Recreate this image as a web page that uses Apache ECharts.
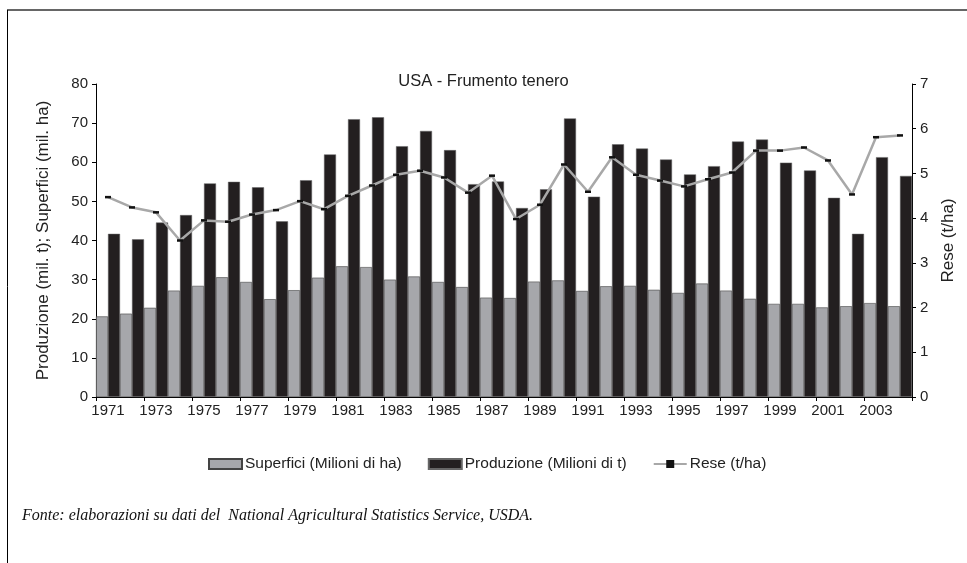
<!DOCTYPE html>
<html>
<head>
<meta charset="utf-8">
<script src="https://cdn.jsdelivr.net/npm/echarts@6/dist/echarts.min.js"></script>
<style>html,body{margin:0;padding:0;background:#fff}#c{width:967px;height:563px}</style>
</head>
<body>
<div id="c"></div>
<script>
var years = ['1971','1972','1973','1974','1975','1976','1977','1978','1979','1980','1981','1982','1983','1984','1985','1986','1987','1988','1989','1990','1991','1992','1993','1994','1995','1996','1997','1998','1999','2000','2001','2002','2003','2004'];
var superfici = [20.6,21.3,22.8,27.2,28.4,30.6,29.4,25.0,27.3,30.5,33.4,33.2,30.0,30.8,29.4,28.1,25.4,25.3,29.5,29.8,27.1,28.3,28.4,27.4,26.6,29.0,27.2,25.1,23.8,23.8,22.9,23.2,24.0,23.2];
var produzione = [41.7,40.3,44.6,46.5,54.6,55.0,53.6,44.9,55.4,62.0,71.0,71.5,64.1,68.0,63.1,54.4,55.1,48.3,53.1,71.2,51.2,64.6,63.5,60.7,56.9,59.0,65.3,65.8,59.9,57.9,50.9,41.7,61.3,56.5];
var rese = [4.47,4.24,4.13,3.50,3.95,3.92,4.08,4.18,4.38,4.20,4.50,4.73,4.97,5.06,4.91,4.57,4.95,3.98,4.30,5.20,4.59,5.36,4.97,4.84,4.71,4.87,5.02,5.51,5.51,5.58,5.29,4.53,5.81,5.85];
var leftTicks = {min:0, max:80, interval:10};
var rightTicks = {min:0, max:7, interval:1};

var font = 'Liberation Sans, Arial, sans-serif';
var chart = echarts.init(document.getElementById('c'));
chart.setOption({
  animation:false,
  backgroundColor:'#fff',
  textStyle:{fontFamily:font},
  title:{text:'USA - Frumento tenero', left:'center', top:68, textStyle:{fontFamily:font, fontSize:16.5, fontWeight:'normal', color:'#222'}},
  grid:{left:96, right:55, top:84, bottom:166},
  legend:{
    top:451, left:203, itemGap:26, itemWidth:33, itemHeight:10,
    textStyle:{fontFamily:font, fontSize:15.5, color:'#222', padding:[0,0,0,-2]},
    data:[
      {name:'Superfici (Milioni di ha)', icon:'rect'},
      {name:'Produzione (Milioni di t)', icon:'rect'},
      {name:'Rese (t/ha)'}
    ]
  },
  xAxis:{
    type:'category', data:years, boundaryGap:true,
    axisLine:{lineStyle:{color:'#000', width:1}},
    axisTick:{show:true, length:4, lineStyle:{color:'#000'}},
    axisLabel:{interval:1, fontFamily:font, fontSize:15, color:'#222', margin:6}
  },
  yAxis:[
    {type:'value', min:leftTicks.min, max:leftTicks.max, interval:leftTicks.interval,
     name:'Produzione (mil. t); Superfici (mil. ha)', nameLocation:'middle', nameGap:44,
     nameTextStyle:{fontFamily:font, fontSize:17, color:'#222'},
     axisLine:{show:true, lineStyle:{color:'#000'}},
     axisTick:{show:true, length:4, lineStyle:{color:'#000'}},
     axisLabel:{fontFamily:font, fontSize:15, color:'#222', margin:8},
     splitLine:{show:false}},
    {type:'value', min:rightTicks.min, max:rightTicks.max, interval:rightTicks.interval,
     name:'Rese (t/ha)', nameLocation:'middle', nameGap:28, nameRotate:90,
     nameTextStyle:{fontFamily:font, fontSize:17, color:'#222'},
     axisLine:{show:true, lineStyle:{color:'#000'}},
     axisTick:{show:true, length:4, lineStyle:{color:'#000'}},
     axisLabel:{fontFamily:font, fontSize:15, color:'#222', margin:8},
     splitLine:{show:false}}
  ],
  series:[
    {name:'Superfici (Milioni di ha)', type:'bar', data:superfici, barWidth:'50%', barGap:'0%', barCategoryGap:'0%',
     itemStyle:{color:'#a6a7ab', borderColor:'#444', borderWidth:0.6}},
    {name:'Produzione (Milioni di t)', type:'bar', data:produzione, barWidth:'50%', barGap:'0%', barCategoryGap:'0%',
     itemStyle:{color:'#231f20', borderColor:'#666', borderWidth:0.5}},
    {name:'Rese (t/ha)', type:'line', yAxisIndex:1, data:rese,
     symbol:'rect', symbolSize:[6,2.5], showSymbol:true,
     lineStyle:{color:'#a8a8a8', width:2.5},
     itemStyle:{color:'#111'}}
  ],
  graphic:[
    {type:'line', shape:{x1:7, y1:10, x2:967, y2:10}, style:{stroke:'#666', lineWidth:2}},
    {type:'line', shape:{x1:7.5, y1:10, x2:7.5, y2:563}, style:{stroke:'#000', lineWidth:1}},
    {type:'text', left:22, top:508, style:{text:'Fonte: elaborazioni su dati del  National Agricultural Statistics Service, USDA.', font:'italic 16px "Liberation Serif", "DejaVu Serif", serif', fill:'#111'}}
  ]
});
</script>
</body>
</html>
